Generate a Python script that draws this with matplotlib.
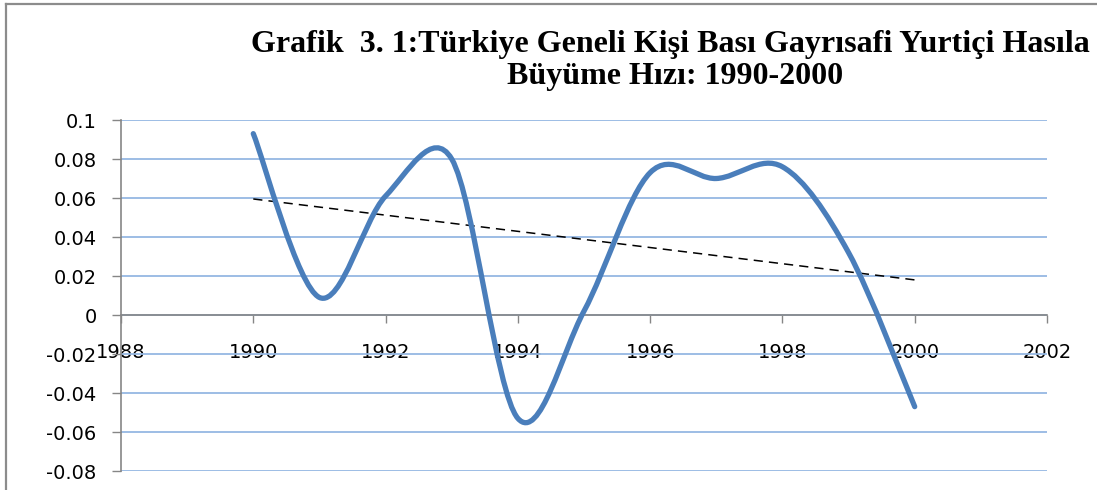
import numpy as np
import matplotlib
matplotlib.use("Agg")
import matplotlib.pyplot as plt
from matplotlib.path import Path
from matplotlib.patches import PathPatch
from matplotlib.lines import Line2D

# ---- data ----
years = [1990, 1991, 1992, 1993, 1994, 1995, 1996, 1997, 1998, 1999, 2000]
growth = [0.093, 0.009, 0.061, 0.080, -0.053, 0.002, 0.073, 0.070, 0.076, 0.032, -0.047]
trend_years = [1990, 2000]
trend_values = [0.0595, 0.018]
x_ticks = [1988, 1990, 1992, 1994, 1996, 1998, 2000, 2002]
y_ticks = [-0.08, -0.06, -0.04, -0.02, 0, 0.02, 0.04, 0.06, 0.08, 0.1]
y_tick_labels = ["-0.08", "-0.06", "-0.04", "-0.02", "0", "0.02", "0.04", "0.06", "0.08", "0.1"]
title_line1 = "Grafik  3. 1:Türkiye Geneli Kişi Bası Gayrısafi Yurtiçi Hasıla"
title_line2 = "Büyüme Hızı: 1990-2000"

W, H = 1097, 490
fig = plt.figure(figsize=(W / 100, H / 100), dpi=100)

def fx(px):
    return px / W

def fy(py):
    return 1 - py / H

ax = fig.add_axes([fx(121), fy(471), fx(1047) - fx(121), fy(120) - fy(471)])
ax.set_xlim(1988, 2002)
ax.set_ylim(-0.08, 0.1)

ax.set_yticks(y_ticks)
ax.set_yticklabels(y_tick_labels)
ax.set_xticks(x_ticks)
ax.set_xticklabels([str(t) for t in x_ticks])
ax.yaxis.grid(True, color="#95B8E3", linewidth=1.3)
ax.set_axisbelow(True)

for s in ["top", "right"]:
    ax.spines[s].set_visible(False)
ax.spines["left"].set_color("#868686")
ax.spines["left"].set_linewidth(1.2)
ax.spines["bottom"].set_position(("data", 0))
ax.spines["bottom"].set_color("#868686")
ax.spines["bottom"].set_linewidth(1.2)

ax.tick_params(axis="y", direction="out", length=6.5, width=1.0, color="#868686",
               pad=11, labelsize=14, labelcolor="#000000")
ax.tick_params(axis="x", direction="out", length=6, width=1.0, color="#868686",
               pad=14, labelsize=14, labelcolor="#000000")
for lab in ax.get_xticklabels() + ax.get_yticklabels():
    lab.set_fontfamily("DejaVu Sans")
    lab.set_zorder(5)

# smoothed line: cubic Bezier through the data points (Excel-like smoothing,
# control arms computed in display space and capped at half the segment length)
pts = ax.transData.transform(np.column_stack([years, growth]).astype(float))
n = len(pts)
verts = [pts[0]]
codes = [Path.MOVETO]
for i in range(n - 1):
    p0 = pts[max(i - 1, 0)]
    p1 = pts[i]
    p2 = pts[i + 1]
    p3 = pts[min(i + 2, n - 1)]
    d12 = np.hypot(*(p2 - p1))
    a1 = (p2 - p0) / 6.0
    a2 = (p3 - p1) / 6.0
    for a in (a1, a2):
        la = np.hypot(*a)
        if la > d12 / 2 and la > 0:
            a *= (d12 / 2) / la
    verts += [p1 + a1, p2 - a2, p2]
    codes += [Path.CURVE4] * 3
verts = ax.transData.inverted().transform(np.array(verts))
patch = PathPatch(Path(verts, codes), facecolor="none", edgecolor="#4A7EBB",
                  linewidth=3.8, capstyle="round", joinstyle="round", zorder=4)
ax.add_patch(patch)

# linear trend line
ax.plot(trend_years, trend_values, color="#000000",
        linewidth=1.1, linestyle=(0, (6, 4)), zorder=3)

# title
fig.text(fx(670), fy(52), title_line1, ha="center", va="baseline",
         fontsize=23, fontweight="bold", family="Liberation Serif")
fig.text(fx(675), fy(84), title_line2, ha="center", va="baseline",
         fontsize=23, fontweight="bold", family="Liberation Serif")

# outer chart border (cropped: only top and left edges visible)
fig.add_artist(Line2D([fx(6), 1.0], [fy(4.5), fy(4.5)], transform=fig.transFigure,
                      color="#8C8C8C", linewidth=1.6))
fig.add_artist(Line2D([fx(6), fx(6)], [0.0, fy(4.5)], transform=fig.transFigure,
                      color="#8C8C8C", linewidth=1.6))

fig.savefig("out.png", dpi=100)
